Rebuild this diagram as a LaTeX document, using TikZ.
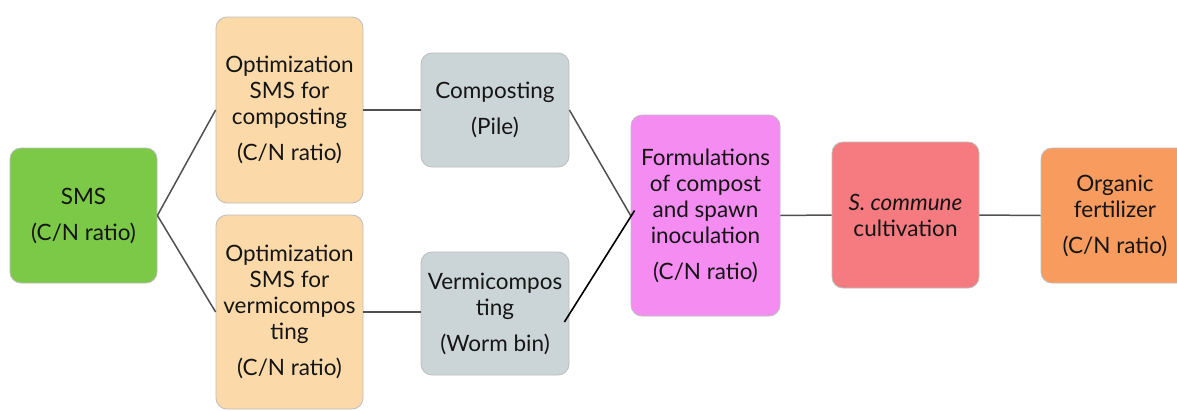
\documentclass[tikz,border=0pt]{standalone}
\usepackage{fontspec}
\setmainfont{Lato}
\usetikzlibrary{calc}
\definecolor{cgreen}{HTML}{7CC847}
\definecolor{cpeach}{HTML}{FBD9A8}
\definecolor{cgray}{HTML}{CBD4D7}
\definecolor{cmag}{HTML}{F48CF2}
\definecolor{cred}{HTML}{F57B80}
\definecolor{corange}{HTML}{F89B5F}
\definecolor{cborder}{HTML}{BDBDBD}
\definecolor{cline}{HTML}{505050}
\definecolor{ctext}{HTML}{151515}
\tikzset{
  box/.style={draw=cborder, line width=0.8pt, rounded corners=11pt, align=center,
    text=ctext, font=\fontsize{22.5}{26}\selectfont, inner sep=2pt},
  link/.style={draw=cline, line width=1.5pt},
  darklink/.style={draw=black, line width=1.6pt}
}
\begin{document}
\begin{tikzpicture}[x=1pt,y=-1pt]
\useasboundingbox (0,0) rectangle (1177,410);
\clip (0,0) rectangle (1177,410);
\fill[white] (0,0) rectangle (1177,410);
\node[box, fill=cgreen, minimum width=147pt, minimum height=135pt] (sms) at (83.5,215.5) {SMS\\[10pt](C/N ratio)};
\node[box, fill=cpeach, minimum width=147pt, minimum height=186pt] (opt1) at (289.5,110) {Optimization\\SMS for\\composting\\[10pt](C/N ratio)};
\node[box, fill=cpeach, minimum width=147pt, minimum height=194pt] (opt2) at (289.5,312) {Optimization\\SMS for\\vermicompos\\ting\\[10pt](C/N ratio)};
\node[box, fill=cgray, minimum width=148pt, minimum height=114pt] (comp) at (495,110) {Composting\\[10pt](Pile)};
\node[box, fill=cgray, minimum width=148pt, minimum height=123pt] (verm) at (495,313.5) {Vermicompos\\ting\\[10pt](Worm bin)};
\node[box, fill=cmag, minimum width=149pt, minimum height=201pt] (form) at (705.5,215.5) {Formulations\\of compost\\and spawn\\inoculation\\[10pt](C/N ratio)};
\node[box, fill=cred, minimum width=147pt, minimum height=146pt] (scom) at (905.5,215) {\textit{S. commune}\\cultivation};
\node[box, fill=corange, minimum width=148pt, minimum height=135pt] (org) at (1115,215.5) {Organic\\fertilizer\\[10pt](C/N ratio)};
\draw[link] (sms.east) -- (opt1.west);
\draw[link] (sms.east) -- (opt2.west);
\draw[link] (opt1.east) -- (comp.west);
\draw[link] (opt2.east) -- (opt2.east -| verm.west);
\draw[link] (comp.east) -- (form.west);
\draw[darklink] ($(verm.east)+(-5,8.5)$) -- ($(form.west)+(4,-5)$);
\draw[link] (form.east) -- (scom.west);
\draw[link] (scom.east) -- (org.west);
\end{tikzpicture}
\end{document}
